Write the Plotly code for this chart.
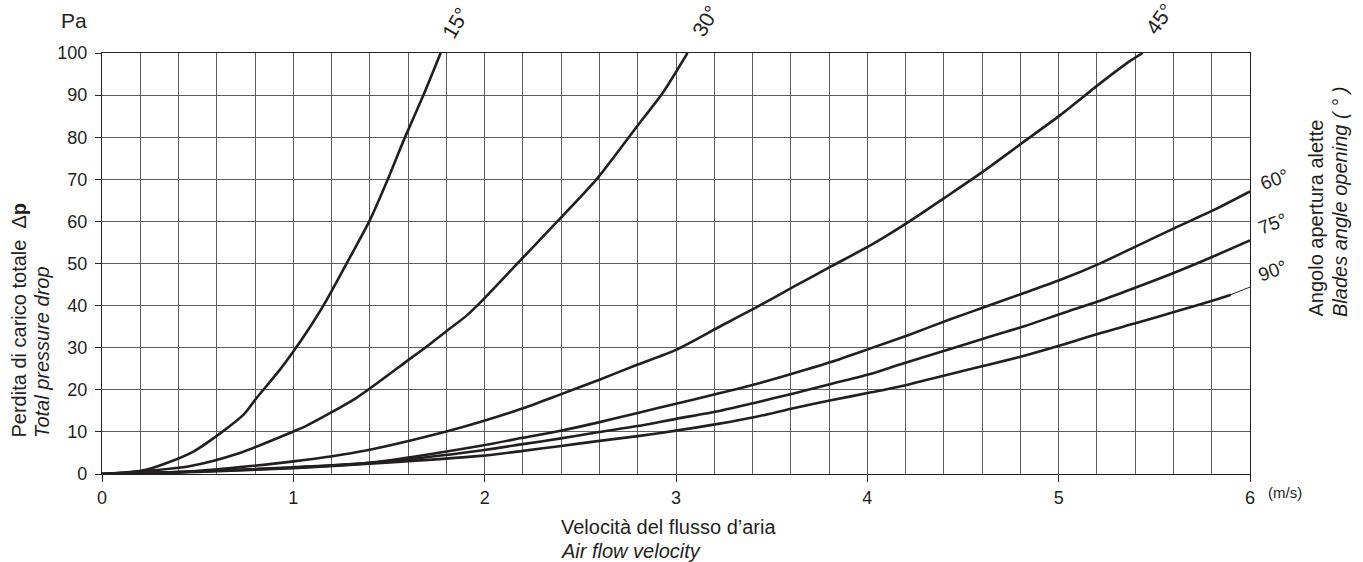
import plotly.graph_objects as go

# ---- data ----
x15 = [0, 0.23, 0.48, 0.74, 0.8, 0.93, 1.0, 1.09, 1.17, 1.3, 1.4, 1.49, 1.58, 1.68, 1.77]
y15 = [0, 1.0, 5.4, 14.1, 17.6, 24.8, 29.1, 35.1, 41.0, 51.8, 60.3, 69.6, 79.6, 90, 100]

x30 = [0, 0.45, 0.72, 1.0, 1.07, 1.33, 1.59, 1.71, 1.8, 1.91, 1.97, 2.19, 2.38, 2.59, 2.79, 2.93, 3.06]
y30 = [0, 1.8, 5.0, 10.1, 11.5, 18.1, 26.7, 30.7, 33.9, 37.8, 40.4, 50.9, 60.0, 70.3, 82.2, 90.5, 100]

x45 = [0, 0.44, 1.0, 1.38, 1.8, 1.98, 2.2, 2.39, 2.6, 2.8, 3.0, 3.22, 3.42, 3.62, 3.81, 4.02,
       4.22, 4.42, 4.61, 4.82, 5.01, 5.22, 5.37, 5.44]
y45 = [0, 0.5, 3.0, 5.6, 10.1, 12.4, 15.6, 18.8, 22.4, 26.0, 29.5, 34.8, 39.6, 44.6, 49.3, 54.4,
       60.0, 66.1, 72.0, 79.0, 85.3, 92.9, 98.0, 100]

x60 = [0, 0.5, 1.0, 1.42, 1.98, 2.2, 2.39, 2.59, 2.8, 3.0, 3.22, 3.42, 3.62, 3.81, 4.02, 4.22,
       4.43, 4.61, 4.82, 5.02, 5.22, 5.41, 5.6, 5.82, 6.0]
y60 = [0, 0.6, 1.6, 2.8, 6.7, 8.6, 10.2, 12.2, 14.5, 16.7, 19.1, 21.4, 24.0, 26.6, 29.9, 33.1,
       36.7, 39.6, 43.0, 46.3, 50.1, 54.2, 58.3, 62.9, 67.1]

x75 = [0, 0.5, 1.0, 1.42, 1.98, 2.2, 2.39, 2.59, 2.8, 3.0, 3.22, 3.42, 3.62, 3.81, 4.02, 4.17,
       4.42, 4.61, 4.82, 5.02, 5.22, 5.41, 5.62, 5.82, 6.0]
y75 = [0, 0.6, 1.5, 2.7, 5.6, 7.1, 8.4, 9.9, 11.4, 13.1, 14.9, 17.0, 19.2, 21.4, 23.8, 26.0,
       29.5, 32.2, 35.1, 38.2, 41.2, 44.4, 48.1, 51.9, 55.5]

x90 = [0, 0.5, 1.0, 1.42, 1.98, 2.2, 2.39, 2.59, 2.8, 3.0, 3.22, 3.42, 3.62, 3.81, 4.02, 4.17,
       4.42, 4.61, 4.82, 5.02, 5.22, 5.41, 5.62, 5.82, 5.9]
y90 = [0, 0.5, 1.4, 2.5, 4.3, 5.5, 6.6, 7.8, 9.0, 10.3, 11.9, 13.6, 15.7, 17.5, 19.4, 20.8,
       23.6, 25.7, 28.1, 30.7, 33.5, 35.9, 38.7, 41.4, 42.6]
x90_ext = [5.9, 6.0]
y90_ext = [42.6, 44.4]

x_ticks = [0, 1, 2, 3, 4, 5, 6]
y_ticks = [0, 10, 20, 30, 40, 50, 60, 70, 80, 90, 100]

# ---- figure ----
W, H = 1363, 562
L, T = 102, 53
PW, PH = 1148, 421
R, B = W - L - PW, H - T - PH
INK = "#231f20"
GRID = "#5e5e5e"
FONT = "Liberation Sans, Arial, sans-serif"


# reference-picture pixel -> paper coordinate
def px(xp):
    return (xp - L) / PW


def py(yp):
    return (T + PH - yp) / PH


fig = go.Figure()
for xs, ys in [(x15, y15), (x30, y30), (x45, y45), (x60, y60), (x75, y75), (x90, y90)]:
    fig.add_trace(go.Scatter(x=xs, y=ys, mode="lines",
                             line=dict(color=INK, width=2.6, shape="spline", smoothing=0.7),
                             hoverinfo="skip"))
fig.add_trace(go.Scatter(x=x90_ext, y=y90_ext, mode="lines",
                         line=dict(color=INK, width=1), hoverinfo="skip"))

fig.update_layout(
    width=W, height=H,
    margin=dict(l=L, r=R, t=T, b=B),
    paper_bgcolor="white", plot_bgcolor="white",
    showlegend=False,
    font=dict(family=FONT, color="#231f20", size=18),
    xaxis=dict(range=[0, 6], tickvals=x_ticks, ticks="outside", ticklen=7,
               tickcolor=INK, showgrid=True, gridcolor=GRID, gridwidth=1,
               showline=True, linecolor=INK, linewidth=1.2, mirror=True,
               zeroline=False, tickfont=dict(size=18),
               minor=dict(dtick=0.2, showgrid=True, gridcolor=GRID, gridwidth=1)),
    yaxis=dict(range=[0, 100], tickvals=y_ticks, ticks="outside", ticklen=6,
               tickcolor=INK, showgrid=True, gridcolor=GRID, gridwidth=1,
               showline=True, linecolor=INK, linewidth=1.2, mirror=True,
               zeroline=False, tickfont=dict(size=18), ticklabelstandoff=4),
)

ann = []


def add(text, x, y, size=20, angle=0, xa="center", ya="middle"):
    ann.append(dict(text=text, x=px(x), y=py(y), xref="paper", yref="paper",
                    showarrow=False, textangle=angle, font=dict(size=size),
                    xanchor=xa, yanchor=ya))


# unit labels
add("Pa", 74, 21, size=21)
add("(m/s)", 1285, 493, size=15)
# x title
add("Velocità del flusso d’aria", 559, 527, size=20, xa="left")
add("<i>Air flow velocity</i>", 559, 551, size=20, xa="left")
# y title
add("Perdita di carico totale  Δ<b>p</b>", 18, 440, size=20, angle=-90, ya="bottom")
add("<i>Total pressure drop</i>", 42, 440, size=20, angle=-90, ya="bottom")
# right title
add("Angolo apertura alette", 1315, 319, size=20, angle=-90, ya="bottom")
add("<i>Blades angle opening ( ° )</i>", 1340, 319, size=20, angle=-90, ya="bottom")
# curve labels
for txt, xp, yp, ang, sz in [("15°", 456, 23, -60, 21), ("30°", 706, 21, -60, 21),
                             ("45°", 1160, 19, -55, 21), ("60°", 1274, 179, -20, 19),
                             ("75°", 1273, 223, -20, 19), ("90°", 1273, 270, -20, 19)]:
    add(txt, xp, yp, size=sz, angle=ang)
fig.update_layout(annotations=ann)

# remove the default page margin so the figure sits at the window's top-left corner
fig.write_html("out.html", config={"displayModeBar": False},
               post_script="document.body.style.margin='0';")
